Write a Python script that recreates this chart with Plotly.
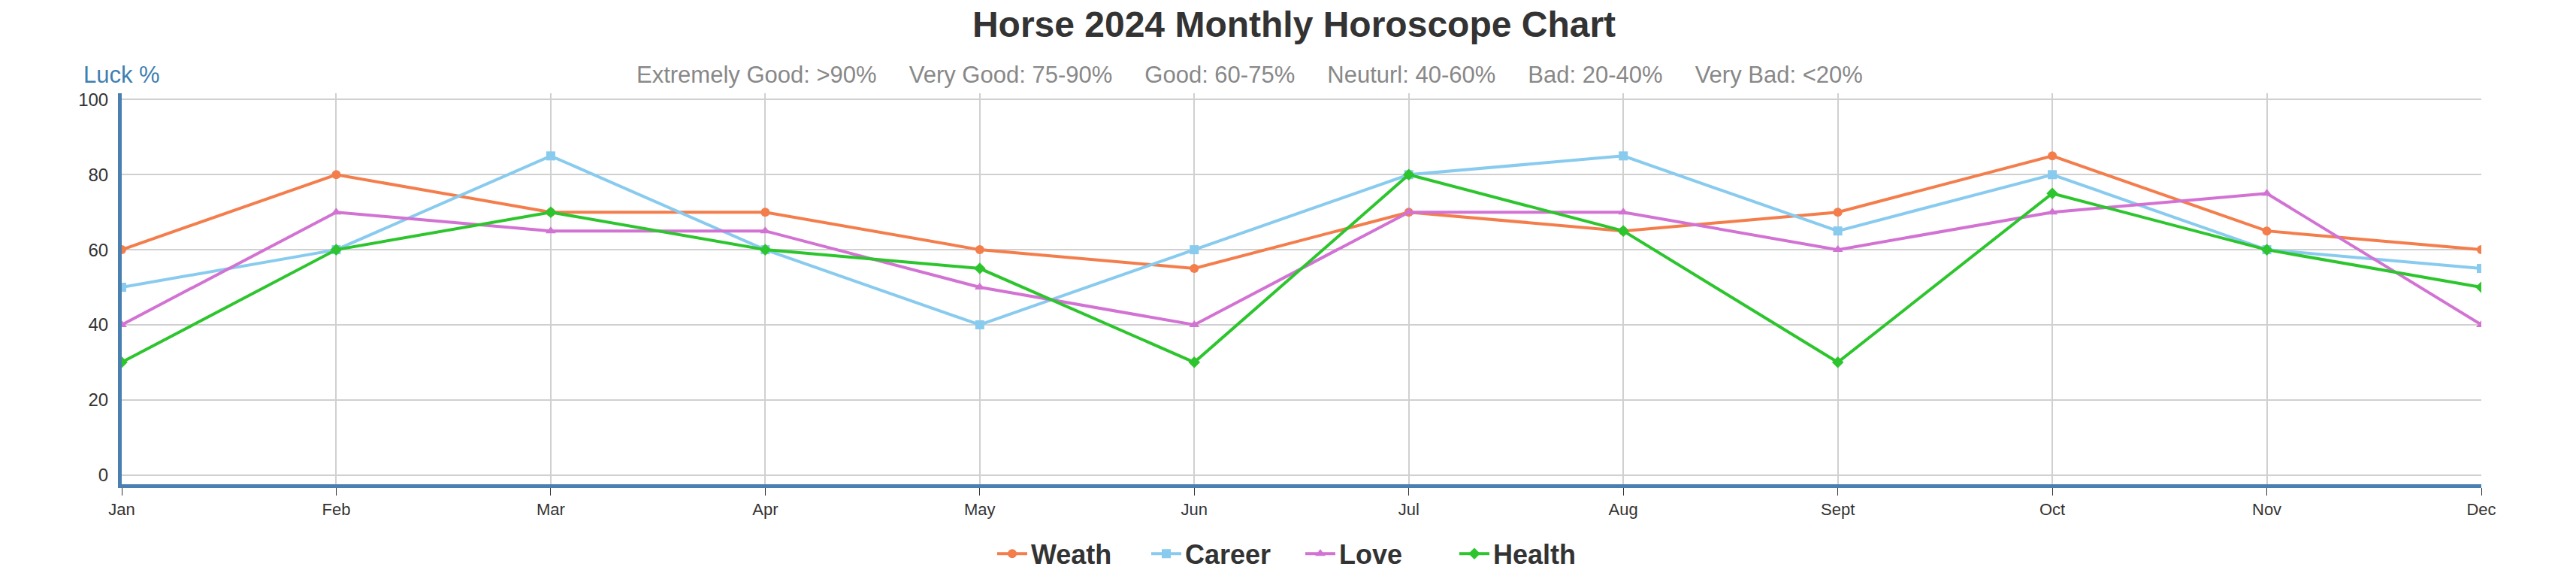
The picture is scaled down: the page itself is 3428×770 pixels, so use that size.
import plotly.graph_objects as go

months = ["Jan","Feb","Mar","Apr","May","Jun","Jul","Aug","Sept","Oct","Nov","Dec"]
weath  = [60,80,70,70,60,55,70,65,70,85,65,60]
career = [50,60,85,60,40,60,80,85,65,80,60,55]
love   = [40,70,65,65,50,40,70,70,60,70,75,40]
health = [30,60,70,60,55,30,80,65,30,75,60,50]

series = [("Weath", weath, "#f47d4c", "circle"),
          ("Career", career, "#88cbee", "square"),
          ("Love", love, "#d272d3", "triangle-up"),
          ("Health", health, "#2dc52d", "diamond")]

fig = go.Figure()
for name, vals, col, sym in series:
    fig.add_trace(go.Scatter(x=months, y=vals, name=name, mode="lines+markers",
                             line=dict(color=col, width=4),
                             marker=dict(symbol=sym, size=12, color=col)))

fig.update_layout(
    width=3428, height=770, plot_bgcolor="white", paper_bgcolor="white",
    margin=dict(l=154, r=134, t=116, b=108),
    font=dict(family="Liberation Sans, Arial", color="#333"),
    title=dict(text="<b>Horse 2024 Monthly Horoscope Chart</b>", x=0.5, y=0.99, yanchor="top",
               font=dict(size=48, color="#333")),
    legend=dict(orientation="h", x=0.5, xanchor="center", y=-0.12, yanchor="top",
                entrywidth=150, itemwidth=40,
                font=dict(size=36, color="#333", weight="bold")),
    xaxis=dict(showgrid=True, gridcolor="#d0d0d0", gridwidth=2, range=[0, 11],
               showline=True, linecolor="#4a80b0", linewidth=5,
               ticks="outside", ticklen=10, tickcolor="#333", tickfont=dict(size=22, color="#333")),
    yaxis=dict(range=[-2.5, 101.7], tickvals=[0,20,40,60,80,100], gridcolor="#d0d0d0", gridwidth=2,
               showline=True, linecolor="#4a80b0", linewidth=5, zeroline=False,
               tickfont=dict(size=24, color="#333"), ticks="", ticklabelstandoff=8),
    annotations=[
        dict(text="Luck %", xref="paper", yref="paper", x=-0.017, y=1.01, xanchor="left", yanchor="bottom",
             showarrow=False, font=dict(size=31, color="#3f7fb0")),
        dict(text="Extremely Good: >90%&nbsp;&nbsp;&nbsp;&nbsp;&nbsp;Very Good: 75-90%&nbsp;&nbsp;&nbsp;&nbsp;&nbsp;Good: 60-75%&nbsp;&nbsp;&nbsp;&nbsp;&nbsp;Neuturl: 40-60%&nbsp;&nbsp;&nbsp;&nbsp;&nbsp;Bad: 20-40%&nbsp;&nbsp;&nbsp;&nbsp;&nbsp;Very Bad: <20%",
             xref="paper", yref="paper", x=0.478, y=1.01, xanchor="center", yanchor="bottom",
             showarrow=False, font=dict(size=31, color="#888")),
    ],
)
fig.write_html("out.html")
